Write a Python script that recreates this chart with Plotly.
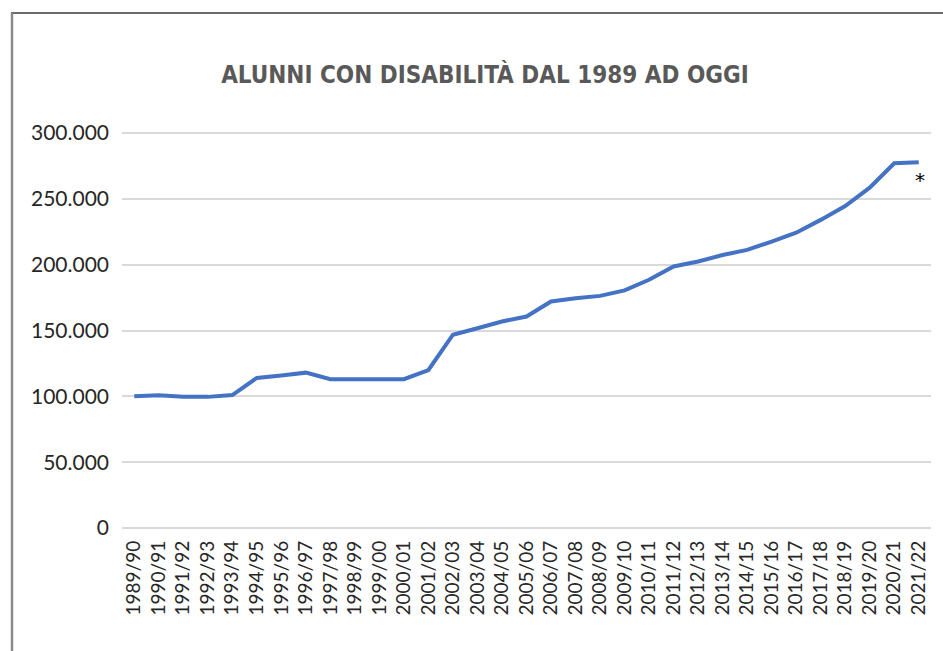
import plotly.graph_objects as go

# anni scolastici
anni = ["1989/90", "1990/91", "1991/92", "1992/93", "1993/94", "1994/95",
        "1995/96", "1996/97", "1997/98", "1998/99", "1999/00", "2000/01",
        "2001/02", "2002/03", "2003/04", "2004/05", "2005/06", "2006/07",
        "2007/08", "2008/09", "2009/10", "2010/11", "2011/12", "2012/13",
        "2013/14", "2014/15", "2015/16", "2016/17", "2017/18", "2018/19",
        "2019/20", "2020/21", "2021/22"]

# alunni con disabilita'
alunni = [100000, 100800, 99700, 99600, 101000, 114000,
          115800, 118000, 113000, 113000, 113000, 113000,
          120000, 146800, 151700, 156800, 160600, 172000,
          174500, 176300, 180500, 188500, 198600, 202400,
          207300, 211200, 217500, 224300, 234000, 244500,
          258500, 277000, 277800]

y_ticks = [0, 50000, 100000, 150000, 200000, 250000, 300000]

W, H = 943, 651
L, R, T, B = 122, 12, 131, 121

fig = go.Figure()

fig.add_trace(go.Scatter(
    x=anni, y=alunni,
    mode="lines",
    line=dict(color="#4472C4", width=4),
    hoverinfo="x+y",
    showlegend=False,
))

# asterisco sull'ultimo valore (dato provvisorio)
fig.add_annotation(x=anni[-1], y=alunni[-1], text="*", showarrow=False,
                   yshift=-18, xshift=1,
                   font=dict(family="DejaVu Sans, sans-serif", size=20, color="#000000"))

# cornice (solo lati sinistro e superiore visibili)
pw = W - L - R
ph = H - T - B
def px_x(v):
    return (v - L) / pw
def px_y(v):
    return (H - B - v) / ph

fig.add_shape(type="line", xref="paper", yref="paper",
              x0=px_x(11), x1=px_x(W + 5), y0=px_y(13), y1=px_y(13),
              line=dict(color="#3a3a3a", width=1.5))
fig.add_shape(type="line", xref="paper", yref="paper",
              x0=px_x(12), x1=px_x(12), y0=px_y(13), y1=px_y(H + 5),
              line=dict(color="#8a8a8a", width=2.5))

fig.update_layout(
    width=W, height=H,
    margin=dict(l=L, r=R, t=T, b=B),
    paper_bgcolor="white",
    plot_bgcolor="white",
    separators=",.",
    title=dict(
        text="<b>ALUNNI CON DISABILITÀ DAL 1989 AD OGGI</b>",
        x=485 / W, xanchor="center",
        y=1 - 75 / H, yanchor="middle",
        font=dict(family="Liberation Sans Narrow, DejaVu Sans Condensed, Roboto, sans-serif",
                  size=24, color="#595959"),
    ),
    xaxis=dict(
        type="category",
        range=[-0.5, len(anni) - 0.5],
        tickangle=-90,
        showgrid=False, zeroline=False, showline=False,
        ticks="",
        ticklabelstandoff=6,
        tickfont=dict(family="Lato, sans-serif", size=19, color="#262626"),
    ),
    yaxis=dict(
        range=[-1500, 301500],
        tickvals=y_ticks,
        tickformat=",d",
        showgrid=True, gridcolor="#d9d9d9", gridwidth=1.5,
        zeroline=False, showline=False,
        ticks="",
        ticklabelstandoff=12,
        tickfont=dict(family="Lato, sans-serif", size=21, color="#262626"),
    ),
)

# niente margine del body, cosi' la figura parte da (0, 0)
fig.write_html("out.html", config={"displayModeBar": False},
               post_script="document.body.style.margin='0';")
